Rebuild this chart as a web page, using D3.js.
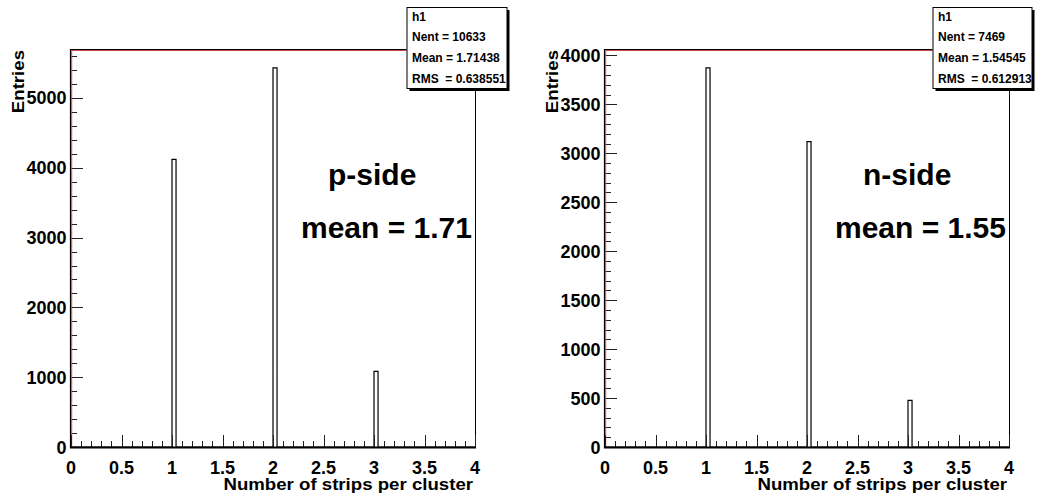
<!DOCTYPE html>
<html><head><meta charset="utf-8">
<script src="https://cdnjs.cloudflare.com/ajax/libs/d3/7.8.5/d3.min.js"></script>
<style>
html,body{margin:0;padding:0;background:#fff;}
svg text{font-family:"Liberation Sans",Arial,Helvetica,sans-serif;font-weight:bold;white-space:pre;}
</style></head>
<body><svg id="c" width="1037" height="497"></svg>
<script>
// ---- data ----
const strips = [1, 2, 3];
const pSideCounts = [4120, 5430, 1083];
const nSideCounts = [3872, 3120, 477];
const binWidth = 0.04;
const xTicks = [0, 0.5, 1, 1.5, 2, 2.5, 3, 3.5, 4];
const pYTicks = [0, 1000, 2000, 3000, 4000, 5000];
const nYTicks = [0, 500, 1000, 1500, 2000, 2500, 3000, 3500, 4000];
const pStats = ["h1", "Nent = 10633", "Mean = 1.71438", "RMS  = 0.638551"];
const nStats = ["h1", "Nent = 7469", "Mean = 1.54545", "RMS  = 0.612913"];
const pLabels = ["p-side", "mean = 1.71"];
const nLabels = ["n-side", "mean = 1.55"];
const xTitle = "Number of strips per cluster";
const yTitle = "Entries";

const svg = d3.select("#c");

function txt(g, s, x, y, size, anchor, rot, sx) {
  const t = g.append("text").text(s).attr("font-size", size)
    .attr("text-anchor", anchor || "start")
    .attr("transform", `translate(${x},${y}) rotate(${rot||0}) scale(${sx||1},1)`);
  return t;
}

function panel(cfg) {
  const g = svg.append("g");
  const x = d3.scaleLinear().domain([0, 4]).range([cfg.x0, cfg.x1]);
  const ymax = d3.max(cfg.counts) * 1.05;
  const y = d3.scaleLinear().domain([0, ymax]).range([447, 49]);

  // histogram outline
  const pts = [[0, 0]];
  cfg.counts.forEach((c, i) => {
    const v = strips[i];
    pts.push([v, 0], [v, c], [v + binWidth, c], [v + binWidth, 0]);
  });
  pts.push([4, 0]);
  g.append("path").attr("d", d3.line().x(d => x(d[0])).y(d => y(d[1]))(pts))
    .attr("fill", "none").attr("stroke", "#000").attr("stroke-width", 1.2);

  // frame
  g.append("line").attr("x1", x(0)).attr("x2", cfg.boxX).attr("y1", 49.5).attr("y2", 49.5)
    .attr("stroke", "#000").attr("stroke-width", 1);
  g.append("line").attr("x1", x(0) + 1).attr("x2", cfg.boxX).attr("y1", 50.5).attr("y2", 50.5)
    .attr("stroke", "#d04545").attr("stroke-width", 1);
  g.append("line").attr("x1", x(4) + 0.5).attr("x2", x(4) + 0.5).attr("y1", 88).attr("y2", 447)
    .attr("stroke", "#000").attr("stroke-width", 1);

  // y axis
  const yMinor = d3.range(0, ymax, cfg.yMinorStep);
  g.selectAll(null).data(yMinor).join("line")
    .attr("x1", x(0)).attr("x2", d => x(0) + (cfg.yTicks.includes(d) ? 12 : 6))
    .attr("y1", d => Math.round(y(d)) + 0.5).attr("y2", d => Math.round(y(d)) + 0.5)
    .attr("stroke", "#222").attr("stroke-width", 1);
  g.append("line").attr("x1", x(0) - 0.5).attr("x2", x(0) - 0.5).attr("y1", 49).attr("y2", 448)
    .attr("stroke", "#000").attr("stroke-width", 1.2);
  g.append("line").attr("x1", x(0) + 0.7).attr("x2", x(0) + 0.7).attr("y1", 50).attr("y2", 447)
    .attr("stroke", "#d04545").attr("stroke-width", 1);
  cfg.yTicks.forEach(v => txt(g, String(v), x(0) - 4.5, y(v) + 6.5, 18, "end"));

  // x axis
  const xMinor = d3.range(0, 40.5, 1).map(d => d / 10);
  g.selectAll(null).data(xMinor).join("line")
    .attr("x1", d => Math.round(x(d)) + 0.5).attr("x2", d => Math.round(x(d)) + 0.5)
    .attr("y1", 447).attr("y2", d => 447 - (Math.abs(d * 2 - Math.round(d * 2)) < 1e-6 ? 12 : 6))
    .attr("stroke", "#222").attr("stroke-width", 1);
  g.append("line").attr("x1", x(0) - 1).attr("x2", x(4) + 1).attr("y1", 447.5).attr("y2", 447.5)
    .attr("stroke", "#000").attr("stroke-width", 2);
  xTicks.forEach(v => txt(g, String(v), x(v), 474, 18, "middle"));

  // titles
  txt(g, xTitle, x(4) - 2, 490, 16.5, "end", 0, 1.13);
  txt(g, yTitle, cfg.yTitleX, 50, 16.5, "end", -90, 1.13);

  // stats box
  g.append("rect").attr("x", cfg.boxX + 3).attr("y", 10).attr("width", cfg.boxW).attr("height", 81).attr("fill", "#000");
  g.append("rect").attr("x", cfg.boxX + 0.5).attr("y", 7.5).attr("width", cfg.boxW).attr("height", 81)
    .attr("fill", "#fff").attr("stroke", "#000").attr("stroke-width", 1);
  cfg.stats.forEach((s, i) => txt(g, s, cfg.boxX + 5.5, 20.7 + i * 20.7, 12, "start"));

  // labels
  txt(g, cfg.labels[0], cfg.l1x, 184.5, 30, "start");
  txt(g, cfg.labels[1], cfg.l2x, 237.5, 30, "start");
}

panel({x0: 71, x1: 475, counts: pSideCounts, yTicks: pYTicks, yMinorStep: 200,
  stats: pStats, labels: pLabels, boxX: 406.5, boxW: 100, yTitleX: 24, l1x: 328, l2x: 301});
panel({x0: 605, x1: 1009, counts: nSideCounts, yTicks: nYTicks, yMinorStep: 100,
  stats: nStats, labels: nLabels, boxX: 932.5, boxW: 99, yTitleX: 557.5, l1x: 863, l2x: 835});
</script></body></html>
